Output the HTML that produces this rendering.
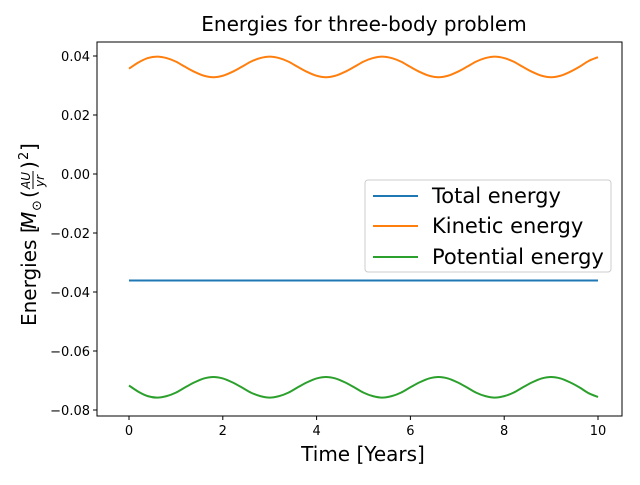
<!DOCTYPE html>
<html><head><meta charset="utf-8"><style>
body{margin:0;background:#fff}
svg text{font-family:"DejaVu Sans","Liberation Sans",sans-serif}
</style></head><body>
<svg id="chart" width="640" height="480" xmlns="http://www.w3.org/2000/svg">
<rect width="640" height="480" fill="#fff"/>
<text x="364" y="31" font-size="20" text-anchor="middle">Energies for three-body problem</text>
<g id="plot"></g>
<text x="363" y="461" font-size="20" text-anchor="middle">Time [Years]</text>
<g transform="translate(36,226) rotate(-90)">
<text x="-100" y="0" font-size="20">Energies [</text>
<text x="-3" y="0" font-size="20" font-style="italic">M</text>
<text x="15" y="5" font-size="13">⊙</text>
<text x="28" y="0" font-size="20">(</text>
<text x="37" y="-6" font-size="12" font-style="italic">AU</text>
<line x1="37" y1="-3" x2="55" y2="-3" stroke="#000" stroke-width="1"/>
<text x="39" y="8" font-size="12" font-style="italic">yr</text>
<text x="57" y="0" font-size="20">)</text>
<text x="66" y="-8" font-size="13">2</text>
<text x="75" y="0" font-size="20">]</text>
</g>
<g>
<rect x="365" y="180" width="246" height="92" rx="3" fill="#fff" fill-opacity="0.8" stroke="#ccc"/>
<line x1="373" y1="196" x2="418" y2="196" stroke="#1f77b4" stroke-width="2"/>
<text x="432" y="203" font-size="21">Total energy</text>
<line x1="373" y1="226" x2="418" y2="226" stroke="#ff7f0e" stroke-width="2"/>
<text x="432" y="233" font-size="21">Kinetic energy</text>
<line x1="373" y1="257" x2="418" y2="257" stroke="#2ca02c" stroke-width="2"/>
<text x="432" y="264" font-size="21">Potential energy</text>
</g>
</svg>
<script>
const times = [0,0.2,0.4,0.6,0.8,1.0,1.2,1.4,1.6,1.8,2.0,2.2,2.4,2.6,2.8,3.0,3.2,3.4,3.6,3.8,4.0,4.2,4.4,4.6,4.8,5.0,5.2,5.4,5.6,5.8,6.0,6.2,6.4,6.6,6.8,7.0,7.2,7.4,7.6,7.8,8.0,8.2,8.4,8.6,8.8,9.0,9.2,9.4,9.6,9.8,10.0];
const kinetic = [0.0357,0.0378,0.0393,0.0398,0.0393,0.0381,0.0363,0.0346,0.0333,0.0328,0.0333,0.0346,
0.0363,0.0381,0.0393,0.0398,0.0393,0.0381,0.0363,0.0346,0.0333,0.0328,0.0333,0.0346,
0.0363,0.0381,0.0393,0.0398,0.0393,0.0381,0.0363,0.0346,0.0333,0.0328,0.0333,0.0346,
0.0363,0.0381,0.0393,0.0398,0.0393,0.0381,0.0363,0.0346,0.0333,0.0328,0.0333,0.0346,
0.0363,0.0383,0.0396];
const potential = [-0.0717,-0.0738,-0.0753,-0.0758,-0.0753,-0.0741,-0.0723,-0.0706,-0.0693,-0.0688,-0.0693,-0.0706,
-0.0723,-0.0741,-0.0753,-0.0758,-0.0753,-0.0741,-0.0723,-0.0706,-0.0693,-0.0688,-0.0693,-0.0706,
-0.0723,-0.0741,-0.0753,-0.0758,-0.0753,-0.0741,-0.0723,-0.0706,-0.0693,-0.0688,-0.0693,-0.0706,
-0.0723,-0.0741,-0.0753,-0.0758,-0.0753,-0.0741,-0.0723,-0.0706,-0.0693,-0.0688,-0.0693,-0.0706,
-0.0723,-0.0743,-0.0756];
const total = times.map(()=>-0.0361);
const xTicks = [0,2,4,6,8,10];
const yTicks = [0.04,0.02,0.00,-0.02,-0.04,-0.06,-0.08];
const yTickLabels = ["0.04","0.02","0.00","−0.02","−0.04","−0.06","−0.08"];

const L=97,R=622,T=42,B=416;
const x = t => 129 + (t-0)*(598-129)/10;
const y = v => 174 - v*(59/0.02);
const NS="http://www.w3.org/2000/svg";
const plot=document.getElementById('plot');
function mk(tag,attrs){const e=document.createElementNS(NS,tag);for(const k in attrs)e.setAttribute(k,attrs[k]);plot.appendChild(e);return e;}
function smooth(xs,ys){
  const p=xs.map((t,i)=>[x(t),y(ys[i])]);
  let d=`M${p[0][0]},${p[0][1]}`;
  for(let i=0;i<p.length-1;i++){
    const p0=p[Math.max(i-1,0)],p1=p[i],p2=p[i+1],p3=p[Math.min(i+2,p.length-1)];
    const c1=[p1[0]+(p2[0]-p0[0])/6,p1[1]+(p2[1]-p0[1])/6];
    const c2=[p2[0]-(p3[0]-p1[0])/6,p2[1]-(p3[1]-p1[1])/6];
    d+=` C${c1[0]},${c1[1]} ${c2[0]},${c2[1]} ${p2[0]},${p2[1]}`;
  }
  return d;
}
const series=[[total,'#1f77b4','total-energy-line'],[kinetic,'#ff7f0e','kinetic-energy-line'],[potential,'#2ca02c','potential-energy-line']];
series.forEach(s=>{
  const el=mk('path',{d:smooth(times,s[0]),fill:'none',stroke:s[1],'stroke-width':2});
  
  
});
const frame=mk('rect',{x:L,y:T,width:R-L,height:B-T,fill:'none',stroke:'#000','stroke-width':1});


xTicks.forEach(t=>{
  mk('line',{x1:x(t),x2:x(t),y1:B,y2:B+4,stroke:'#000'});
  const tx=mk('text',{x:x(t),y:B+19,'font-size':13,'text-anchor':'middle'});
  tx.textContent=String(t);
  
  
});
yTicks.forEach((v,i)=>{
  mk('line',{x1:L-4,x2:L,y1:y(v),y2:y(v),stroke:'#000'});
  const tx=mk('text',{x:L-7,y:y(v)+5,'font-size':13,'text-anchor':'end'});
  tx.textContent=yTickLabels[i];
  
  
});
</script>
</body></html>
